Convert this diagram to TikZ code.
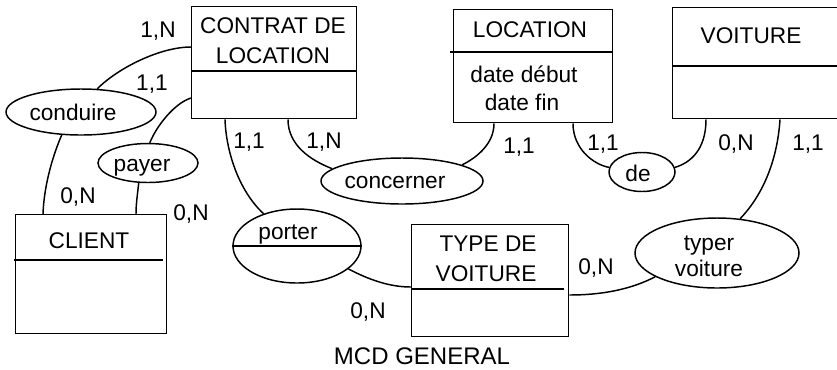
\documentclass[tikz,border=0pt]{standalone}
\usepackage{fontspec}
\setmainfont{Liberation Sans}
\usetikzlibrary{shapes.geometric,calc}
\begin{document}
\begin{tikzpicture}[x=0.75pt,y=-0.75pt,line width=1.1pt,
  ent/.style n args={2}{draw,rectangle,inner sep=0pt,anchor=north west,
     minimum width={#1*0.75pt},minimum height={#2*0.75pt}},
  rel/.style n args={2}{draw,ellipse,inner sep=0pt,
     minimum width={#1*0.75pt},minimum height={#2*0.75pt}},
  txt/.style={font=\fontsize{17}{20}\selectfont,inner sep=0pt,anchor=base},
  link/.style={line width=1.1pt}]
\useasboundingbox (0,0) rectangle (837,369);
\clip (0,0) rectangle (837,369);

% entities
\node[ent={165}{112}] (contrat) at (191,6) {};
\node[ent={159}{113}] (location) at (453,9) {};
\node[ent={178}{111}] (voiture) at (672,7) {};
\node[ent={151}{119}] (client) at (15,214) {};
\node[ent={157}{112}] (type) at (411,224) {};

% separators
\draw (contrat.west |- 0,71) -- (contrat.east |- 0,71);
\draw (450,52) -- (location.east |- 0,52);
\draw (voiture.west |- 0,66) -- (voiture.east |- 0,66);
\draw (14,260) -- (163,260);
\draw (type.west |- 0,289) -- (564,289);

% entity texts
\node[txt] (t1) at (273,33) {CONTRAT DE};
\node[txt] (t2) at (273,63) {LOCATION};
\node[txt] (t3) at (530,37) {LOCATION};
\node[txt] (t4) at (524,82) {date début};
\node[txt] (t5) at (522,110) {date fin};
\node[txt] (t6) at (751,43) {VOITURE};
\node[txt] (t7) at (89,248) {CLIENT};
\node[txt] (t8) at (488,251) {TYPE DE};
\node[txt] (t9) at (486,281) {VOITURE};

% relations
\node[rel={150}{46}] (conduire) at (81,112) {};
\node[rel={100}{39}] (payer) at (148,163) {};
\node[rel={162}{46}] (concerner) at (402,181) {};
\node[rel={66}{39}] (de) at (642,172) {};
\node[rel={128}{74}] (porter) at (297,246) {};
\node[rel={164}{70}] (typer) at (717,253) {};
\draw (porter.west) -- (porter.east);

\node[txt] (r1) at (73,120) {conduire};
\node[txt] (r2) at (142,171) {payer};
\node[txt] (r3) at (395,188) {concerner};
\node[txt] (r4) at (638,181) {de};
\node[txt] (r5) at (288,239) {porter};
\node[txt] (r6) at (709,250) {typer};
\node[txt] (r7) at (709,276) {voiture};

% connectors
\draw[link] (contrat.west |- 0,47) .. controls (160,47) and (118,68) .. (conduire.55);
\draw[link] (conduire.230) .. controls (53,155) and (44,185) .. ($(client.north west)+(28,0)$);
\draw[link] (contrat.west |- 0,98) .. controls (175,103) and (157,125) .. (payer.85);
\draw[link] (payer.245) .. controls (137,198) and (136,205) .. ($(client.north west)+(121,0)$);
\draw[link] ($(contrat.south west)+(34,0)$) .. controls (226,150) and (238,190) .. (porter.136);
\draw[link] ($(contrat.south west)+(97,0)$) .. controls (288,145) and (310,160) .. (concerner.170);
\draw[link] ($(location.south west)+(41,0)$) .. controls (494,143) and (478,157) .. (concerner.15);
\draw[link] ($(location.south west)+(120,0)$) .. controls (573,150) and (595,165) .. (de.172);
\draw[link] ($(voiture.south west)+(34,0)$) .. controls (706,150) and (690,163) .. (de.8);
\draw[link] ($(voiture.south west)+(108,0)$) .. controls (777,165) and (760,198) .. (typer.56);
\draw[link] (porter.336) .. controls (375,283) and (395,287) .. (type.west |- 0,287);
\draw[link] (typer.201) .. controls (630,290) and (600,295) .. (type.east |- 0,295);

% cardinalities
\node[txt] (c1) at (158,37) {1,N};
\node[txt] (c2) at (152,90) {1,1};
\node[txt] (c3) at (249,148) {1,1};
\node[txt] (c4) at (324,148) {1,N};
\node[txt] (c5) at (519,153) {1,1};
\node[txt] (c6) at (603,150) {1,1};
\node[txt] (c7) at (736,150) {0,N};
\node[txt] (c8) at (808,150) {1,1};
\node[txt] (c9) at (78,203) {0,N};
\node[txt] (c10) at (191,220) {0,N};
\node[txt] (c11) at (368,318) {0,N};
\node[txt] (c12) at (596,274) {0,N};

% title
\node[txt,font=\fontsize{18}{21}\selectfont] (title) at (422,364) {MCD GENERAL};
\end{tikzpicture}
\end{document}
